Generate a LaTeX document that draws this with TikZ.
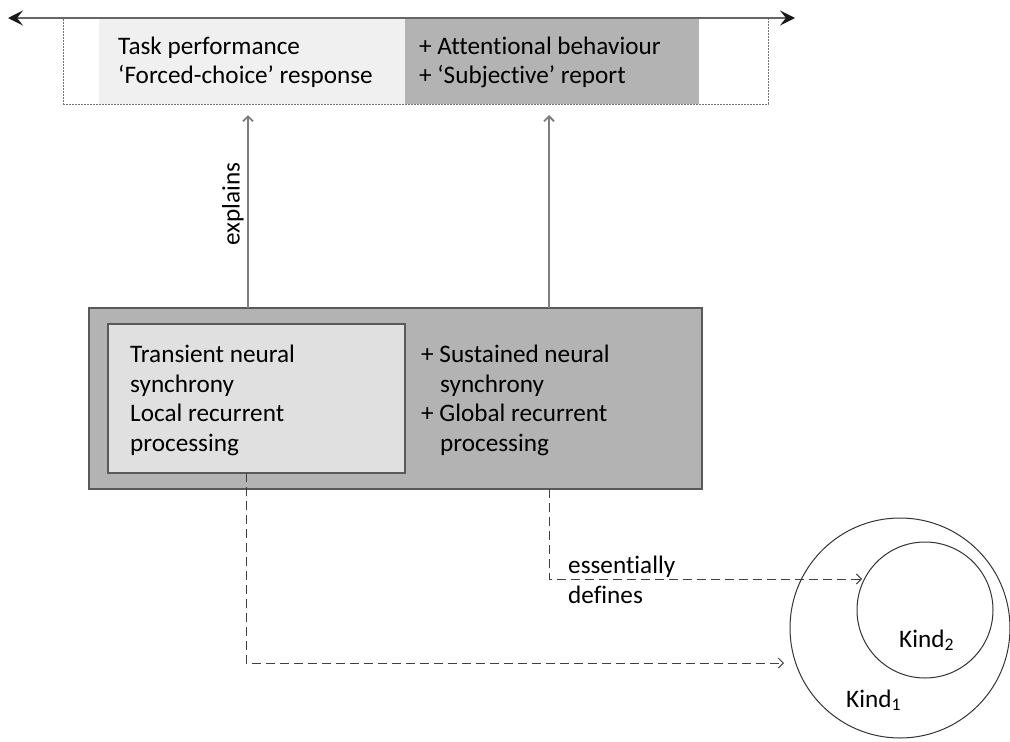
\documentclass[tikz,border=0pt]{standalone}
\usepackage{fontspec}
\setmainfont{Carlito}[Ligatures=NoCommon]
\usetikzlibrary{arrows.meta}

\definecolor{lightfill}{HTML}{F0F0F0}
\definecolor{midfill}{HTML}{E0E0E0}
\definecolor{darkfill}{HTML}{B3B3B3}
\definecolor{edge}{HTML}{595959}
\definecolor{linegray}{HTML}{7F7F7F}

\tikzset{
  txt/.style={font=\fontsize{25.2}{29.5}\selectfont, inner sep=0pt, anchor=base west},
  panel/.style={anchor=north west, inner sep=0pt, outer sep=0pt},
  barb/.style={-{Straight Barb[length=5pt,width=10pt]}},
  uparrow/.style={barb, draw=linegray, line width=1.8pt},
  link/.style={barb, draw=black!75, line width=1pt, dash pattern=on 9pt off 5pt},
  kind/.style={circle, draw=black!80, line width=1pt, inner sep=0pt},
  scaletip/.tip={Stealth[length=15pt,width=15pt,inset=6pt,color=black!90]},
}

\begin{document}
\begin{tikzpicture}[x=1pt,y=-1pt]
\useasboundingbox (0,0) rectangle (1010,742);

% behavioural measures (top band)
\node[panel, minimum width=306pt, minimum height=85pt, fill=lightfill] (taskbg) at (99,19) {};
\node[panel, minimum width=294pt, minimum height=85pt, fill=darkfill] (attbg) at (405,19) {};
\node[panel, minimum width=705pt, minimum height=86pt, draw=black!55, dash pattern=on 2pt off 1pt, line width=1pt] (outcome) at (63,18) {};

\coordinate (scaleL) at (8,18);
\coordinate (scaleR) at (795,18);
\draw[scaletip-scaletip, draw=black!60, line width=2pt] (scaleL) -- (scaleR);

\node[txt] (t1) at (118,54) {Task performance};
\node[txt] (t2) at (118,83) {‘Forced-choice’ response};
\node[txt] (t3) at (419,54) {+ Attentional behaviour};
\node[txt] (t4) at (419,83) {+ ‘Subjective’ report};

% neural mechanisms
\node[panel, minimum width=613pt, minimum height=181pt, fill=darkfill, draw=edge, line width=1.5pt] (neural) at (89,308) {};
\node[panel, minimum width=297pt, minimum height=149pt, fill=midfill, draw=edge, line width=1.5pt] (local) at (108,324) {};

\node[txt] (n1) at (130,362) {Transient neural};
\node[txt] (n2) at (130,392) {synchrony};
\node[txt] (n3) at (130,421) {Local recurrent};
\node[txt] (n4) at (130,451) {processing};

\node[txt] (g1) at (421,362) {+ Sustained neural};
\node[txt] (g2) at (440,392) {synchrony};
\node[txt] (g3) at (421,421) {+ Global recurrent};
\node[txt] (g4) at (440,451) {processing};

% explanatory links
\draw[uparrow, shorten >=11pt] (neural.north -| 248,0) -- (outcome.south -| 248,0);
\draw[uparrow, shorten >=11pt] (neural.north -| 549,0) -- (outcome.south -| 549,0);
\node[font=\fontsize{25.2}{29.5}\selectfont, rotate=90, inner sep=0pt] (explains) at (233,204) {explains};

% kinds
\node[kind, minimum size=220pt] (kind1) at (900,628) {};
\node[kind, minimum size=136pt] (kind2) at (925,610) {};
\node[txt] (k2) at (899,647) {Kind\textsubscript{2}};
\node[txt] (k1) at (846,707) {Kind\textsubscript{1}};

% defining links
\coordinate (d1end) at (784,663);
\coordinate (d2end) at (862,579);
\draw[link] (local.south -| 246,0) |- (d1end);
\draw[link] (neural.south -| 549,0) |- (d2end);
\node[txt] (e1) at (568,573) {essentially};
\node[txt] (e2) at (568,603) {defines};

\end{tikzpicture}
\end{document}
